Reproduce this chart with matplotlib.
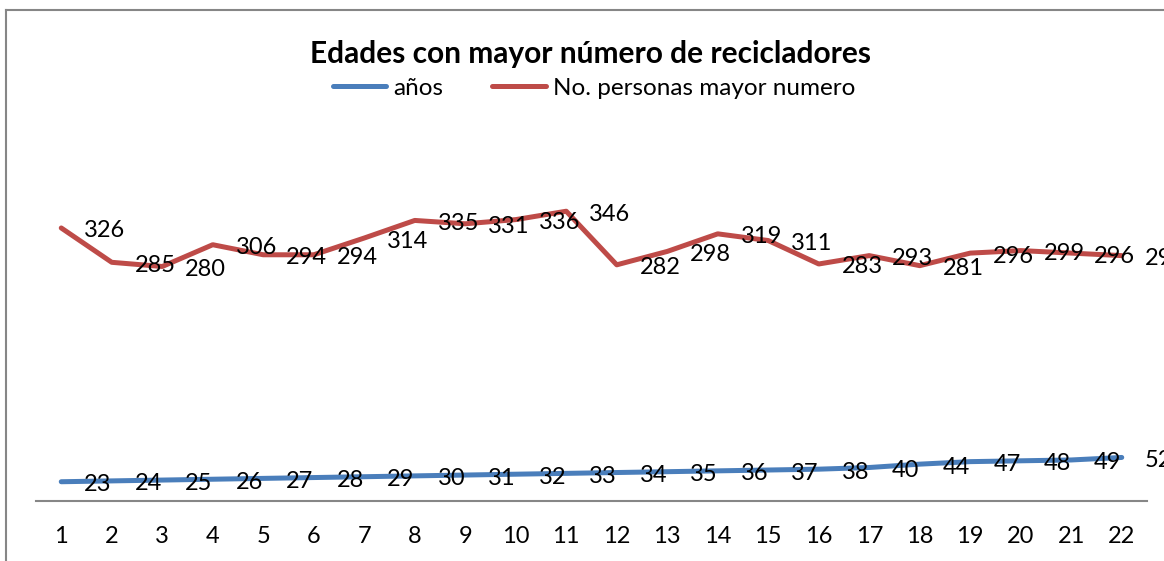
import matplotlib.pyplot as plt
from matplotlib.lines import Line2D

# Categories and series
categorias = list(range(1, 23))
anios = [23, 24, 25, 26, 27, 28, 29, 30, 31, 32, 33,
         34, 35, 36, 37, 38, 40, 44, 47, 48, 49, 52]
personas = [326, 285, 280, 306, 294, 294, 314, 335, 331, 336, 346,
            282, 298, 319, 311, 283, 293, 281, 296, 299, 296, 293]

titulo = 'Edades con mayor número de recicladores'
nombres = ['años', 'No. personas mayor numero']
colores = ['#4A7EBB', '#BE4B48']

plt.rcParams['font.family'] = ['Lato', 'DejaVu Sans']

fig = plt.figure(figsize=(11.64, 5.61), dpi=100)
ax = fig.add_axes([36 / 1164, 60 / 561, 1111 / 1164, 335 / 561])

for serie, color in zip([anios, personas], colores):
    ax.plot(categorias, serie, color=color, lw=3.6, solid_capstyle='round',
            solid_joinstyle='round')
    for x, y in zip(categorias, serie):
        ax.annotate(str(y), (x, y), xytext=(23, -3), textcoords='offset pixels',
                    ha='left', va='center', fontsize=17, color='black',
                    annotation_clip=False)

ax.set_xlim(0.5, 22.5)
ax.set_ylim(0, 400)
ax.set_xticks(categorias)
ax.tick_params(axis='x', length=0, pad=18, labelsize=17)
ax.set_yticks([])
for lado in ['left', 'right', 'top']:
    ax.spines[lado].set_visible(False)
ax.spines['bottom'].set_color('#868686')
ax.spines['bottom'].set_linewidth(1.5)

# chart-area border (left and top edges, rest cropped away)
fig.add_artist(Line2D([6 / 1164, 6 / 1164], [0, 1 - 10 / 561],
                      transform=fig.transFigure, color='#868686', lw=1.5))
fig.add_artist(Line2D([6 / 1164, 1], [1 - 10 / 561, 1 - 10 / 561],
                      transform=fig.transFigure, color='#868686', lw=1.5))

fig.text(590 / 1164, 1 - 54 / 561, titulo, ha='center', va='center',
         fontsize=21.5, fontweight='bold')

handles = [Line2D([], [], color=c, lw=3.6, solid_capstyle='round') for c in colores]
fig.legend(handles, nombres, loc='center', bbox_to_anchor=(594 / 1164, 1 - 88 / 561),
           ncol=2, frameon=False, fontsize=17.5, handlelength=2.2,
           handletextpad=0.3, columnspacing=2.0)

fig.savefig('out.png', dpi=100)
